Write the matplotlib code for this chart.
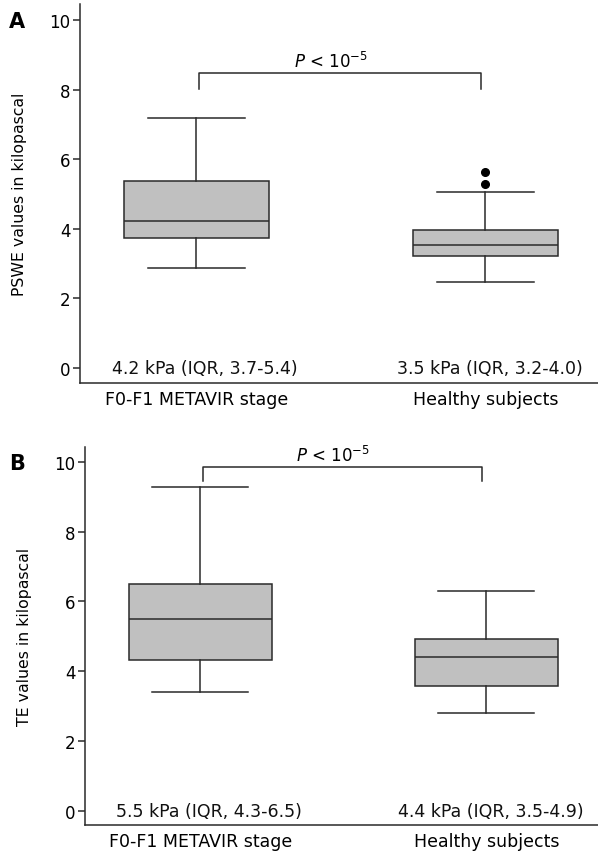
import matplotlib
matplotlib.use("Agg")
import matplotlib.pyplot as plt

# Daftar data
groups = ["F0-F1 METAVIR stage", "Healthy subjects"]

# Panel A: PSWE
pswe_med = [4.23, 3.53]
pswe_q1 = [3.74, 3.21]
pswe_q3 = [5.38, 3.97]
pswe_lo = [2.87, 2.48]
pswe_hi = [7.18, 5.05]
pswe_fliers = [[], [5.28, 5.62]]
pswe_notes = ["4.2 kPa (IQR, 3.7-5.4)", "3.5 kPa (IQR, 3.2-4.0)"]

# Panel B: TE
te_med = [5.49, 4.40]
te_q1 = [4.33, 3.57]
te_q3 = [6.51, 4.91]
te_lo = [3.40, 2.80]
te_hi = [9.29, 6.30]
te_fliers = [[], []]
te_notes = ["5.5 kPa (IQR, 4.3-6.5)", "4.4 kPa (IQR, 3.5-4.9)"]

p_text = r"$\it{P}$ < 10$^{\mathregular{-5}}$"

plt.rcParams['font.family'] = ['DejaVu Sans']
W, H = 598, 854
fig = plt.figure(figsize=(W / 100, H / 100), dpi=100)

line_c = "#2a2a2a"
box_c = "#c0c0c0"


def draw_panel(rect, med, q1, q3, lo, hi, fliers, notes, ylab, letter,
               ylim, bracket_y, bracket_drop, letter_xy):
    ax = fig.add_axes(rect)
    stats = []
    for i in range(len(groups)):
        stats.append(dict(med=med[i], q1=q1[i], q3=q3[i], whislo=lo[i],
                          whishi=hi[i], fliers=fliers[i], label=groups[i]))
    ax.bxp(stats, positions=[1, 2], widths=0.5, capwidths=0.335,
           patch_artist=True, showfliers=True,
           boxprops=dict(facecolor=box_c, edgecolor=line_c, linewidth=1.1),
           medianprops=dict(color=line_c, linewidth=1.1),
           whiskerprops=dict(color=line_c, linewidth=1.1),
           capprops=dict(color=line_c, linewidth=1.1),
           flierprops=dict(marker='o', markerfacecolor='black',
                           markeredgecolor='black', markersize=5.5))
    ax.set_xlim(0.597, 2.39)
    ax.set_ylim(*ylim)
    ax.set_yticks([0, 2, 4, 6, 8, 10])
    ax.spines['top'].set_visible(False)
    ax.spines['right'].set_visible(False)
    for s in ['left', 'bottom']:
        ax.spines[s].set_color(line_c)
        ax.spines[s].set_linewidth(1.1)
    ax.tick_params(axis='y', length=5, width=1.1, color=line_c,
                   labelsize=12, pad=2)
    ax.tick_params(axis='x', length=0, labelsize=12.5, pad=5)
    ax.set_ylabel(ylab, fontsize=11.3, labelpad=16)

    # teks median dan IQR
    for i, note in enumerate(notes):
        ax.text(1.03 + i * 0.985, 0, note, ha='center', va='center',
                fontsize=12.5, color='#111111')

    # tanda kurung signifikansi
    ax.plot([1.01, 1.01, 1.985, 1.985],
            [bracket_drop, bracket_y, bracket_y, bracket_drop],
            color=line_c, linewidth=1.1, clip_on=False)
    ax.text(1.465, bracket_y + 0.05, p_text, ha='center', va='bottom',
            fontsize=12)

    fig.text(letter_xy[0], letter_xy[1], letter, fontsize=15,
             fontweight='bold', ha='left', va='center')
    return ax


draw_panel([80 / W, 1 - 384 / H, 1 - 80 / W, (384 - 5) / H],
           pswe_med, pswe_q1, pswe_q3, pswe_lo, pswe_hi, pswe_fliers,
           pswe_notes, "PSWE values in kilopascal", "A",
           (-0.43, 10.46), 8.48, 8.03, (9 / W, 1 - 22 / H))

draw_panel([85 / W, 1 - 826 / H, 1 - 85 / W, (826 - 448) / H],
           te_med, te_q1, te_q3, te_lo, te_hi, te_fliers,
           te_notes, "TE values in kilopascal", "B",
           (-0.41, 10.43), 9.87, 9.45, (9 / W, 1 - 464 / H))

fig.savefig("out.png", dpi=100)
